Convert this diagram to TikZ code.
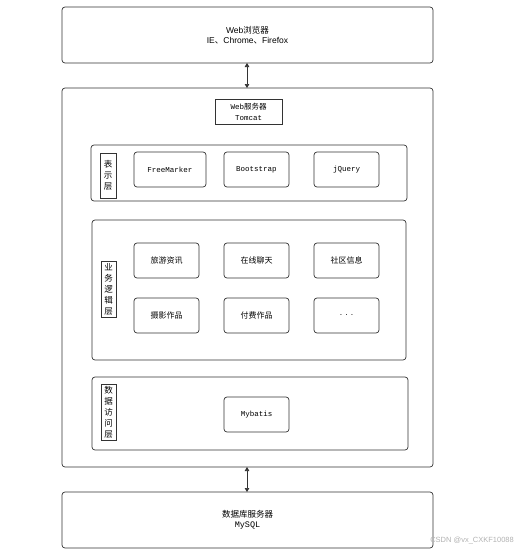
\documentclass[tikz,border=0pt]{standalone}
\usepackage{fontspec}
\setmainfont{Liberation Sans}
\newfontfamily\cjk{Noto Sans CJK SC}
\newfontfamily\monof{Liberation Mono}
\usetikzlibrary{arrows.meta}
\begin{document}
\begin{tikzpicture}[x=1pt,y=-1pt,
  line/.style={draw=black!80,line width=0.7pt},
  bigbox/.style={line,rounded corners=3pt},
  item/.style={line,rounded corners=3pt},
  sqbox/.style={line},
  txt/.style={font=\fontsize{8.5}{10}\selectfont,align=center,inner sep=0pt},
  vlab/.style={font=\cjk\fontsize{8.5}{11}\selectfont,align=center,inner sep=0pt},
  conn/.style={line,{Triangle[length=4pt,width=4.5pt]}-{Triangle[length=4pt,width=4.5pt]}}]
\useasboundingbox (0,0) rectangle (516,554);
% browser
\draw[bigbox] (62,7) rectangle (433,63);
\node[txt] (browser) at (247.5,35) {Web{\cjk 浏览器}\\ IE{\cjk 、}Chrome{\cjk 、}Firefox};
\coordinate (bb) at (247,63);
% web server
\draw[bigbox] (62,88) rectangle (433,467);
\coordinate (wt) at (247,88);
\coordinate (wb) at (247,467);
\draw[sqbox] (215,99) rectangle (282,124);
\node[txt,font=\fontsize{7.5}{11}\selectfont] (tomcat) at (248.5,111.5) {\monof Web{\cjk 服务器}\\ \monof Tomcat};
% presentation layer
\draw[bigbox] (91,145) rectangle (407,201);
\draw[sqbox] (100,153) rectangle (116,198);
\node[vlab] (l1) at (108,175.5) {表\\示\\层};
\draw[item] (134,152) rectangle (206,187);
\node[txt,font=\monof\fontsize{7.5}{9}\selectfont] (fm) at (170,169.5) {FreeMarker};
\draw[item] (224,152) rectangle (289,187);
\node[txt,font=\monof\fontsize{7.5}{9}\selectfont] (bs) at (256.5,169.5) {Bootstrap};
\draw[item] (314,152) rectangle (379,187);
\node[txt,font=\monof\fontsize{7.5}{9}\selectfont] (jq) at (346.5,169.5) {jQuery};
% business layer
\draw[bigbox] (92,220) rectangle (406,360);
\draw[sqbox] (101,261) rectangle (116,317);
\node[vlab] (l2) at (108.5,289) {业\\务\\逻\\辑\\层};
\draw[item] (134,243) rectangle (199,278);
\node[txt,font=\cjk\fontsize{8}{9}\selectfont] (b1) at (166.5,260.5) {旅游资讯};
\draw[item] (224,243) rectangle (289,278);
\node[txt,font=\cjk\fontsize{8}{9}\selectfont] (b2) at (256.5,260.5) {在线聊天};
\draw[item] (314,243) rectangle (379,278);
\node[txt,font=\cjk\fontsize{8}{9}\selectfont] (b3) at (346.5,260.5) {社区信息};
\draw[item] (134,298) rectangle (199,333);
\node[txt,font=\cjk\fontsize{8}{9}\selectfont] (b4) at (166.5,315.5) {摄影作品};
\draw[item] (224,298) rectangle (289,333);
\node[txt,font=\cjk\fontsize{8}{9}\selectfont] (b5) at (256.5,315.5) {付费作品};
\draw[item] (314,298) rectangle (379,333);
\node[txt] (b6) at (346.5,315.5) {. . .};
% data access layer
\draw[bigbox] (92,377) rectangle (408,450);
\draw[sqbox] (101,384) rectangle (116,440);
\node[vlab] (l3) at (108.5,412) {数\\据\\访\\问\\层};
\draw[item] (224,397) rectangle (289,432);
\node[txt,font=\monof\fontsize{7.5}{9}\selectfont] (mb) at (256.5,414.5) {Mybatis};
% database
\draw[bigbox] (62,492) rectangle (433,548);
\coordinate (dt) at (247,492);
\node[txt] (db) at (247.5,520) {{\cjk 数据库服务器}\\ \monof MySQL};
% connectors
\draw[conn] (bb) -- (wt);
\draw[conn] (wb) -- (dt);
% watermark
\node[txt,font=\fontsize{7.5}{9}\selectfont,text=black!30,anchor=east] (wm) at (514,541) {CSDN @vx\_CXKF10088};
\end{tikzpicture}
\end{document}
